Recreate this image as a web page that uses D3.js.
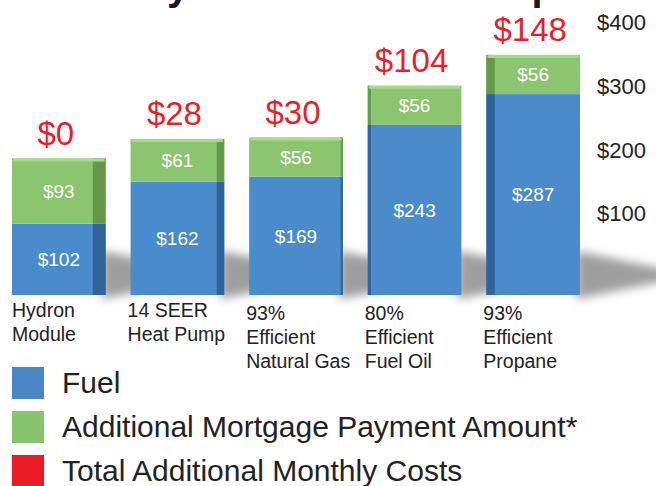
<!DOCTYPE html>
<html>
<head>
<meta charset="utf-8">
<script src="https://cdn.jsdelivr.net/npm/d3@7"></script>
<style>
  body{margin:0;background:white;}
  text{font-family:"Liberation Sans",Arial,Helvetica,sans-serif;}
</style>
</head>
<body>
<div id="container"></div>
<script>
// data
let categories = [
  ["Hydron","Module"],
  ["14 SEER","Heat Pump"],
  ["93%","Efficient","Natural Gas"],
  ["80%","Efficient","Fuel Oil"],
  ["93%","Efficient","Propane"]
];
let fuel = [102,162,169,243,287];
let mortgage = [93,61,56,56,56];
let extraCost = [0,28,30,104,148];
let tickValues = [100,200,300,400];
let legendLabels = ["Fuel","Additional Mortgage Payment Amount*","Total Additional Monthly Costs"];

let w = 656;
let h = 486;

let viz = d3.select("#container")
  .append("svg")
    .attr("width",w)
    .attr("height",h)
    .style("background-color","white");

let defs = viz.append("defs");
defs.append("filter").attr("id","shadowBlur")
  .attr("x","-50%").attr("y","-50%").attr("width","200%").attr("height","200%")
  .append("feGaussianBlur").attr("stdDeviation",5);
defs.append("filter").attr("id","lineBlur")
  .append("feGaussianBlur").attr("stdDeviation",0.7);

let colors = {fuel:"#4a8bcc",mortgage:"#8cc56f"};
let sideColors = {fuel:"#2c5d8f",mortgage:"#5d9144"};
let topColors = {fuel:"#6aa6dc",mortgage:"#a9d88f"};
let legendColors = ["#4a87c6","#88c46e","#ec1c24"];

let keys = categories.map(c => c.join(" "));
let rows = keys.map((k,i) => ({key:k, fuel:fuel[i], mortgage:mortgage[i], extra:extraCost[i]}));

// back wall (gridlines) and the bars' front faces use slightly different scales - perspective
let xScale = d3.scaleBand().domain(keys).range([12,580]).paddingInner(0.21);
let yBack = d3.scaleLinear().domain([0,400]).range([279,24]);
let yFront = d3.scaleLinear().domain([0,400]).range([295,15]);

// title, mostly cut off at the top like in the original
viz.append("text")
  .attr("x",556).attr("y",0)
  .attr("text-anchor","end")
  .attr("font-size",40).attr("font-weight","bold")
  .attr("fill","#1a1a1a")
  .text("Monthly Cost of Ownership");

// gridlines
viz.append("g").selectAll("line").data([0].concat(tickValues)).enter().append("line")
  .attr("x1",20).attr("x2",575)
  .attr("y1",d => yBack(d)).attr("y2",d => yBack(d))
  .attr("stroke",d => d == 0 ? "#dadada" : "#bdbdbd")
  .attr("stroke-width",4)
  .attr("filter","url(#lineBlur)");

let yAxis = d3.axisRight(yBack).tickValues(tickValues).tickFormat(d => "$"+d).tickSize(0).tickPadding(0);
let yAxisG = viz.append("g").attr("class","yaxis").attr("transform","translate(597,0)");
yAxisG.call(yAxis);
yAxisG.select(".domain").remove();
yAxisG.selectAll("text")
  .attr("font-size",22)
  .attr("font-family","Liberation Sans, Arial, sans-serif")
  .attr("fill","#222")
  .attr("dy","0.25em");

// shadows cast to the right of each bar
viz.append("g").selectAll("polygon").data(rows).enter().append("polygon")
  .attr("points",function(d){
    let xr = xScale(d.key) + xScale.bandwidth();
    let yb = yFront(0);
    return [[xr-4,yb-44],[xr+85,yb-26],[xr+85,yb-14],[xr-4,yb+4]].join(" ");
  })
  .attr("fill","#5e5e5e")
  .attr("opacity",0.6)
  .attr("filter","url(#shadowBlur)");

let stacked = d3.stack().keys(["fuel","mortgage"])(rows);

let layers = viz.append("g").selectAll("g").data(stacked).enter().append("g");

layers.selectAll("rect.front").data(s => s.map(d => ({s:s.key, d:d}))).enter().append("rect")
  .attr("class","front")
  .attr("x",o => xScale(o.d.data.key))
  .attr("y",o => yFront(o.d[1]))
  .attr("width",xScale.bandwidth())
  .attr("height",o => yFront(o.d[0]) - yFront(o.d[1]))
  .attr("fill",o => colors[o.s]);

// visible side face: right side for bars left of centre, left side for the others
function sideWidth(key){
  let cx = xScale(key) + xScale.bandwidth()/2;
  return (345 - cx) * 0.045;
}
layers.selectAll("polygon.side").data(s => s.map(d => ({s:s.key, d:d}))).enter().append("polygon")
  .attr("class","side")
  .attr("points",function(o){
    let sw = sideWidth(o.d.data.key);
    let x0 = xScale(o.d.data.key);
    let x1 = x0 + xScale.bandwidth();
    let yt = yFront(o.d[1]);
    let yb = yFront(o.d[0]);
    if(sw > 0){
      return [[x1-sw,yt],[x1,yt],[x1,yb],[x1-sw,yb]].join(" ");
    }
    return [[x0,yt],[x0-sw,yt],[x0-sw,yb],[x0,yb]].join(" ");
  })
  .attr("fill",o => sideColors[o.s])
  .attr("opacity",0.85);

// light top face on the top segment
viz.append("g").selectAll("rect").data(rows).enter().append("rect")
  .attr("x",d => xScale(d.key)+1)
  .attr("y",d => yFront(d.fuel + d.mortgage))
  .attr("width",xScale.bandwidth()-2)
  .attr("height",3)
  .attr("rx",1.5)
  .attr("fill",topColors.mortgage);

// values inside segments
layers.selectAll("text").data(s => s.map(d => ({s:s.key, d:d}))).enter().append("text")
  .attr("x",o => xScale(o.d.data.key) + xScale.bandwidth()/2)
  .attr("y",o => (yFront(o.d[0]) + yFront(o.d[1]))/2)
  .attr("dy","0.36em")
  .attr("text-anchor","middle")
  .attr("font-size",19)
  .attr("fill","white")
  .text(o => "$" + (o.d[1]-o.d[0]));

// red totals above the bars
viz.append("g").selectAll("text").data(rows).enter().append("text")
  .attr("x",d => xScale(d.key) + xScale.bandwidth()/2 - 3)
  .attr("y",d => yFront(d.fuel + d.mortgage) - 14)
  .attr("text-anchor","middle")
  .attr("font-size",33)
  .attr("fill","#ee1c25")
  .text(d => "$" + d.extra);

// category labels under bars
let catG = viz.append("g").selectAll("text").data(categories).enter().append("text")
  .attr("x",(d,i) => xScale(keys[i]) - (i == 0 ? 0 : 3))
  .attr("y",(d,i) => d.length > 2 ? 320 : 317)
  .attr("font-size",19.5)
  .attr("fill","#222");
catG.selectAll("tspan").data(d => d).enter().append("tspan")
  .attr("x",function(){ return d3.select(this.parentNode).attr("x"); })
  .attr("dy",(d,i) => i == 0 ? 0 : 24)
  .text(d => d);

// legend
let legend = viz.append("g").selectAll("g").data(legendLabels).enter().append("g")
  .attr("transform",(d,i) => "translate(12,"+(367 + i*44)+")");
legend.append("rect")
  .attr("width",32).attr("height",32)
  .attr("fill",(d,i) => legendColors[i]);
legend.append("text")
  .attr("x",50).attr("y",15)
  .attr("dy","0.36em")
  .attr("font-size",30)
  .attr("fill","#222")
  .text(d => d);
</script>
</body>
</html>
